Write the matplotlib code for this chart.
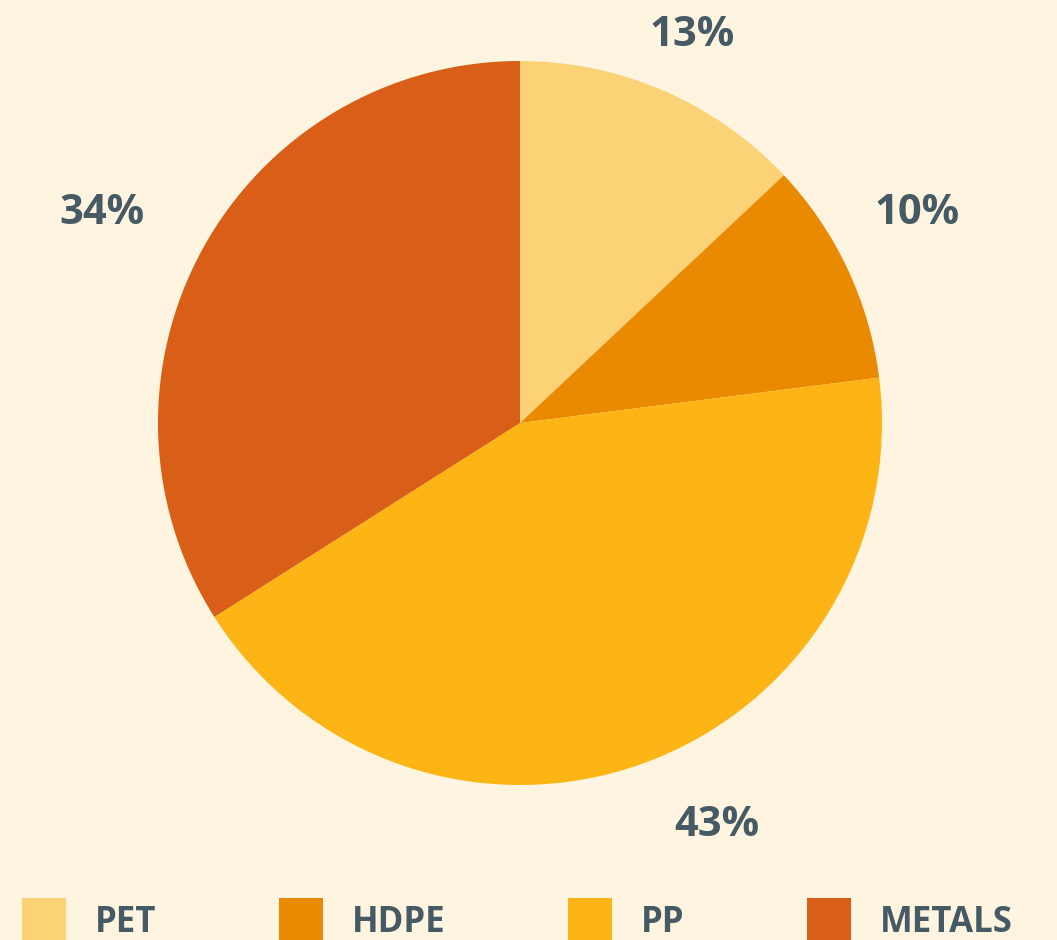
import matplotlib
matplotlib.use('Agg')
from matplotlib import pyplot as plt
from matplotlib.patches import Patch

labels = ['PET', 'HDPE', 'PP', 'METALS']
shares = [13, 10, 43, 34]
colors = ['#FCD277', '#EA8A00', '#FDB515', '#D95F18']

# where the chart tool put its percentage labels (pixels, y from bottom)
label_xy = [(692, 905), (917, 727), (717, 115), (102, 727)]

bg = '#FEF4DF'
text_color = '#455A64'
plt.rcParams['font.family'] = ['Open Sans', 'DejaVu Sans']

fig = plt.figure(figsize=(10.57, 9.40), dpi=100, facecolor=bg)
ax = fig.add_axes([0, 0, 1, 1])
ax.set_facecolor(bg)

wedges, texts, autotexts = ax.pie(
    shares, colors=colors, startangle=90, counterclock=False,
    center=(520, 517), radius=362, autopct='%d%%', pctdistance=1.2,
    textprops={'fontsize': 30, 'fontweight': 'bold', 'color': text_color})
for t, xy in zip(autotexts, label_xy):
    t.set_position(xy)

ax.set_xlim(0, 1057)
ax.set_ylim(0, 940)
ax.set_aspect('equal')
ax.axis('off')

handles = [Patch(facecolor=c, edgecolor='none') for c in colors]
leg = ax.legend(handles, labels, ncol=4, loc='upper left',
                bbox_to_anchor=(22 / 1057, 42 / 940), frameon=False,
                borderpad=0, borderaxespad=0, handlelength=1.27,
                handleheight=1.66, handletextpad=0.84, columnspacing=3.52,
                prop={'size': 25, 'weight': 'bold'})
for t in leg.get_texts():
    t.set_color(text_color)

fig.savefig('out.png', dpi=100, facecolor=bg)
